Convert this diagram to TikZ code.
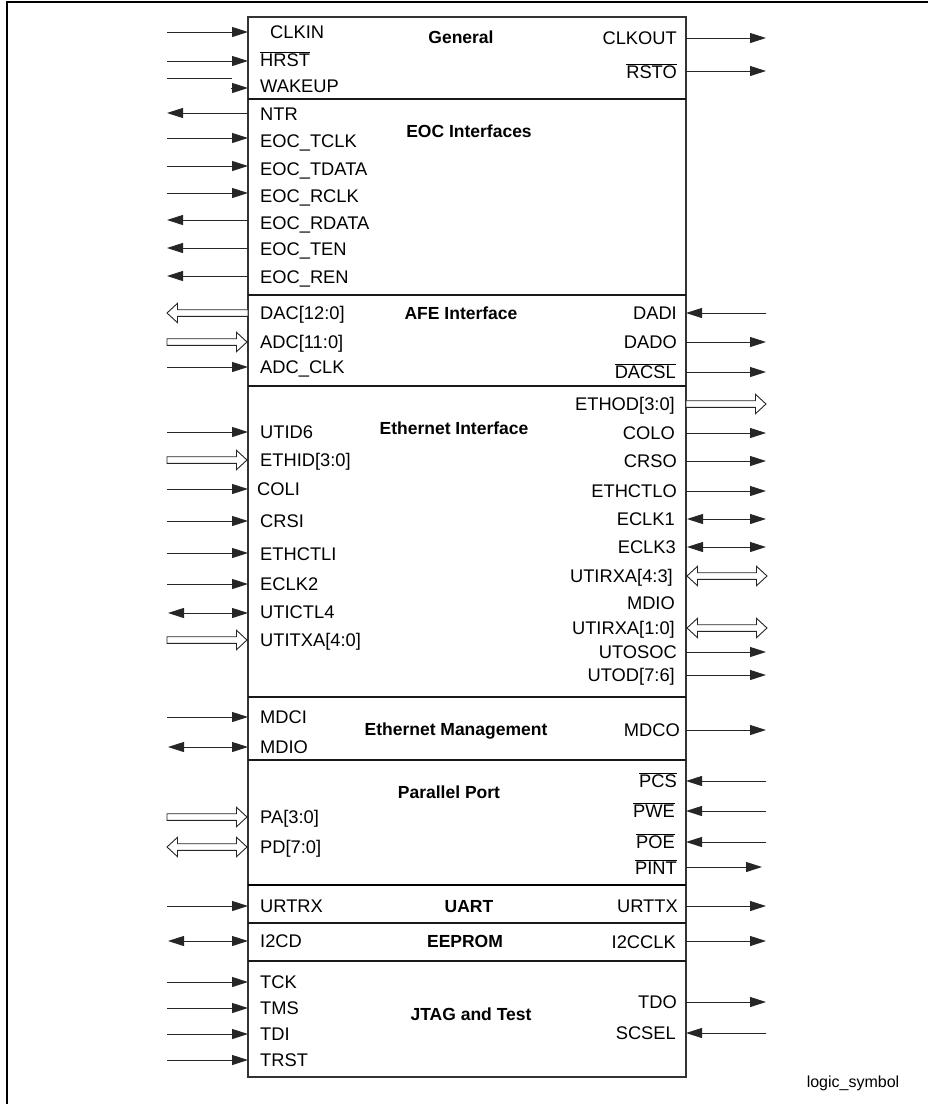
\documentclass[tikz,border=0pt]{standalone}
\usepackage{fontspec}
\setmainfont{Liberation Sans}
\usetikzlibrary{arrows.meta}
\newcommand\ovl[1]{$\overline{\mbox{#1}}$}
\newcommand\busRight[3]{\draw[bus] (#1,#3-3.3) -- (#2-10.5,#3-3.3) -- (#2-10.5,#3-9.7) -- (#2,#3) -- (#2-10.5,#3+9.7) -- (#2-10.5,#3+3.3) -- (#1,#3+3.3) -- cycle;}
\newcommand\busLeft[3]{\draw[bus] (#2,#3-3.3) -- (#1+10.5,#3-3.3) -- (#1+10.5,#3-9.7) -- (#1,#3) -- (#1+10.5,#3+9.7) -- (#1+10.5,#3+3.3) -- (#2,#3+3.3) -- cycle;}
\newcommand\busBoth[3]{\draw[bus] (#1,#3) -- (#1+10.5,#3-9.7) -- (#1+10.5,#3-3.3) -- (#2-10.5,#3-3.3) -- (#2-10.5,#3-9.7) -- (#2,#3) -- (#2-10.5,#3+9.7) -- (#2-10.5,#3+3.3) -- (#1+10.5,#3+3.3) -- (#1+10.5,#3+9.7) -- cycle;}
\tikzset{
  >={Triangle[length=16pt,width=10pt]},
  sig/.style={line width=1pt, draw=black!85},
  bus/.style={line width=0.9pt, draw=black!85, fill=white},
  lbl/.style={font=\fontsize{18.3}{20}\selectfont, inner sep=0pt},
  ttl/.style={font=\fontsize{17.5}{20}\selectfont\bfseries, inner sep=0pt, anchor=base},
  divider/.style={line width=1.6pt, draw=black!90},
}
\begin{document}
\begin{tikzpicture}[x=1pt,y=-1pt]
\useasboundingbox (0,0) rectangle (928,1104);
% outer frame
\draw[line width=2pt] (7,1104) -- (7,2) -- (928,2);
% chip box
\node[draw=black!80, line width=1.2pt, minimum width=438pt, minimum height=1060pt, inner sep=0pt] (chip) at (467,547) {};
% dividers
\draw[divider] (248,99) -- (686,99);
\draw[divider] (248,295) -- (686,295);
\draw[divider] (248,386) -- (686,386);
\draw[divider] (248,697) -- (686,697);
\draw[divider] (248,760) -- (686,760);
\draw[divider, line width=2.4pt, draw=black] (248,885) -- (686,885);
\draw[divider] (248,923) -- (686,923);
\draw[divider] (248,961) -- (686,961);

% section titles
\node[ttl] (tGen) at (461,37+6.3) {General};
\node[ttl] (tEoc) at (469,131+6.3) {EOC Interfaces};
\node[ttl] (tAfe) at (461,313+6.3) {AFE Interface};
\node[ttl] (tEth) at (454,428+6.3) {Ethernet Interface};
\node[ttl] (tMgt) at (456,729+6.3) {Ethernet Management};
\node[ttl] (tPar) at (449,792+6.3) {Parallel Port};
\node[ttl] (tUart) at (469,906+6.3) {UART};
\node[ttl] (tEep) at (465,941+6.3) {EEPROM};
\node[ttl] (tJtag) at (471,1014+6.3) {JTAG and Test};
\node[lbl, font=\fontsize{16}{18}\selectfont, anchor=base] (tLogic) at (853,1082+5.7) {logic\_symbol};

% left labels
\foreach \n/\x/\y/\t in {
  lClkin/270/32/CLKIN, lHrst/260/60/\ovl{HRST}, lWake/260/86/WAKEUP,
  lNtr/260/114/NTR, lTclk/260/141/EOC\_TCLK, lTdata/260/169/EOC\_TDATA,
  lRclk/260/196/EOC\_RCLK, lRdata/260/223/EOC\_RDATA, lTen/260/249/EOC\_TEN,
  lRen/260/277/EOC\_REN,
  lDac/260/313/{DAC[12:0]}, lAdc/260/342/{ADC[11:0]}, lAdcclk/260/367/ADC\_CLK,
  lUtid/260/432/UTID6, lEthid/260/460/{ETHID[3:0]}, lColi/257/489/COLI,
  lCrsi/260/521/CRSI, lEthctli/260/554/ETHCTLI, lEclk2/260/584/ECLK2,
  lUtictl/260/612/UTICTL4, lUtitxa/260/640/{UTITXA[4:0]},
  lMdci/260/717/MDCI, lMdio/260/747/MDIO,
  lPa/260/817/{PA[3:0]}, lPd/260/847/{PD[7:0]},
  lUrtrx/260/906/URTRX, lI2cd/260/941/I2CD,
  lTck/260/982/TCK, lTms/260/1008/TMS, lTdi/260/1034/TDI, lTrst/260/1060/TRST}
  \node[lbl, anchor=base west] (\n) at (\x,\y+6.5) {\t};

% right labels
\foreach \n/\x/\y/\t in {
  rClkout/677/38/CLKOUT, rRsto/677/72/\ovl{RSTO},
  rDadi/677/313/DADI, rDado/677/342/DADO, rDacsl/676/372/\ovl{DACSL},
  rEthod/675/404/{ETHOD[3:0]}, rColo/675/433/COLO, rCrso/677/461/CRSO,
  rEthctlo/677/491/ETHCTLO, rEclk1/675/519/ECLK1, rEclk3/676/547/ECLK3,
  rUtirxa43/673/576/{UTIRXA[4:3]}, rMdio/675/603/MDIO, rUtirxa10/675/628/{UTIRXA[1:0]},
  rUtosoc/677/652/UTOSOC, rUtod/675/675/{UTOD[7:6]},
  rMdco/680/730/MDCO,
  rPcs/677/781/\ovl{PCS}, rPwe/675/811/\ovl{PWE}, rPoe/675/842/\ovl{POE}, rPint/677/868/\ovl{PINT},
  rUrttx/678/906/URTTX, rI2cclk/676/942/I2CCLK,
  rTdo/677/1002/TDO, rScsel/676/1033/SCSEL}
  \node[lbl, anchor=base east] (\n) at (\x,\y+6.5) {\t};

% left signal arrows: inputs
\foreach \y in {32,61,138,166,193,367,432,489,521,553,584,717,906,982,1008,1034,1060}
  \draw[sig,->] (167,\y) -- (248,\y);
% WAKEUP (offset head)
\draw[sig] (167,78) -- (232,78);
\draw[sig,->] (231,88) -- (248,88);
% left outputs
\foreach \y in {113,220,248,276}
  \draw[sig,->] (248,\y) -- (167,\y);
% left bidirectional
\foreach \y in {613,747,941}
  \draw[sig,<->] (168,\y) -- (248,\y);
% left buses
\busLeft{167}{248}{313}
\busRight{167}{247}{342}
\busRight{167}{247}{460}
\busRight{167}{247}{640}
\busRight{167}{247}{817}
\busBoth{167}{247}{847}

% right outputs
\foreach \y in {38,71,342,372,433,461,491,652,675,730,906,941,1002}
  \draw[sig,->] (686,\y) -- (766,\y);
\draw[sig,->] (686,867) -- (762,867);
% right inputs
\foreach \y in {313,781,811,842,1033}
  \draw[sig,->] (766,\y) -- (686,\y);
% right bidirectional
\foreach \y in {519,547}
  \draw[sig,<->] (687,\y) -- (766,\y);
% right buses
\busRight{686}{766}{404}
\busBoth{687}{767}{576}
\busBoth{687}{767}{628}
\end{tikzpicture}
\end{document}
